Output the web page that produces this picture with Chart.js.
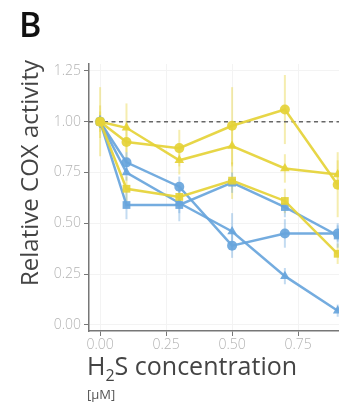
<!DOCTYPE html>
<html lang="en">
<head>
    <meta charset="utf-8">
    <title>COX activity</title>
    <script src="https://cdn.jsdelivr.net/npm/chart.js@4.4.0/dist/chart.umd.min.js"></script>
    <style>
        html, body { margin: 0; padding: 0; background: #fff; }
        #wrap { width: 339px; height: 405px; position: relative; }
    </style>
</head>
<body>
<div id="wrap"><canvas id="c"></canvas></div>
<script>
// H2S concentration (uM)
var conc = [0, 0.1, 0.3, 0.5, 0.7, 0.9];
var xTicks = [0, 0.25, 0.5, 0.75];
var yTicks = [0, 0.25, 0.5, 0.75, 1.0, 1.25];

// relative activity
var yellowCircle   = [1.00, 0.90, 0.87, 0.98, 1.06, 0.69];
var yellowTriangle = [1.00, 0.97, 0.81, 0.88, 0.77, 0.74];
var yellowSquare   = [1.00, 0.67, 0.63, 0.71, 0.61, 0.35];
var blueCircle     = [1.00, 0.80, 0.68, 0.39, 0.45, 0.45];
var blueTriangle   = [1.00, 0.75, 0.60, 0.46, 0.24, 0.07];
var blueSquare     = [1.00, 0.59, 0.59, 0.70, 0.58, 0.44];

// half-length of the error bars
var yellowCircleErr   = [0.17, 0.10, 0.09, 0.19, 0.17, 0.16];
var yellowTriangleErr = [0.08, 0.12, 0.07, 0.10, 0.07, 0.07];
var yellowSquareErr   = [0.05, 0.06, 0.05, 0.09, 0.06, 0.05];
var blueCircleErr     = [0.03, 0.05, 0.05, 0.06, 0.07, 0.04];
var blueTriangleErr   = [0.03, 0.04, 0.05, 0.09, 0.04, 0.03];
var blueSquareErr     = [0.03, 0.07, 0.08, 0.05, 0.05, 0.06];

var yellow = 'rgba(229,210,55,0.92)';
var blue = 'rgba(104,165,220,0.92)';
var yellowBar = 'rgba(229,210,55,0.4)';
var blueBar = 'rgba(104,165,220,0.4)';

function pts(vals) {
    return conc.map(function(x, i) { return { x: x, y: vals[i] }; });
}

function series(vals, errs, col, bar, shape) {
    return {
        data: pts(vals),
        errs: errs,
        barColor: bar,
        borderColor: col,
        backgroundColor: col,
        borderWidth: 2.5,
        pointStyle: shape,
        pointRadius: shape == 'circle' ? 5 : 5.5,
        pointBorderWidth: 0,
        tension: 0,
        clip: false
    };
}

var errorBars = {
    id: 'errorBars',
    beforeDatasetsDraw: function(chart) {
        var ctx = chart.ctx, xs = chart.scales.x, ys = chart.scales.y;
        ctx.save();
        ctx.lineWidth = 2;
        chart.data.datasets.forEach(function(ds) {
            ctx.strokeStyle = ds.barColor;
            ds.data.forEach(function(p, i) {
                var px = xs.getPixelForValue(p.x);
                ctx.beginPath();
                ctx.moveTo(px, ys.getPixelForValue(p.y - ds.errs[i]));
                ctx.lineTo(px, ys.getPixelForValue(p.y + ds.errs[i]));
                ctx.stroke();
            });
        });
        // reference line at 1.0
        var ry = ys.getPixelForValue(1.0);
        ctx.strokeStyle = '#666';
        ctx.lineWidth = 1.4;
        ctx.setLineDash([4, 3.5]);
        ctx.beginPath();
        ctx.moveTo(chart.chartArea.left, ry);
        ctx.lineTo(chart.width, ry);
        ctx.stroke();
        ctx.restore();
    }
};

var labels = {
    id: 'labels',
    afterDraw: function(chart) {
        var ctx = chart.ctx;
        ctx.save();
        ctx.fillStyle = '#111';
        ctx.font = '600 34px "Open Sans"';
        ctx.textBaseline = 'alphabetic';
        ctx.fillText('B', 19, 37);

        // y title
        ctx.fillStyle = '#444';
        ctx.font = '24px "Open Sans"';
        ctx.translate(38, 173);
        ctx.rotate(-Math.PI / 2);
        ctx.textAlign = 'center';
        ctx.fillText('Relative COX activity', 0, 0);
        ctx.restore();

        // x title with subscript
        ctx.save();
        ctx.fillStyle = '#444';
        ctx.textBaseline = 'alphabetic';
        var x = 87, y = 375;
        ctx.font = '25px "Open Sans"';
        ctx.fillText('H', x, y);
        x += ctx.measureText('H').width;
        ctx.font = '16px "Open Sans"';
        ctx.fillText('2', x, y + 6);
        x += ctx.measureText('2').width;
        ctx.font = '25px "Open Sans"';
        ctx.fillText('S concentration', x, y);
        ctx.font = '13px "Open Sans"';
        ctx.fillStyle = '#555';
        ctx.fillText('[\u00b5M]', 87, 399);
        ctx.restore();
    }
};

var tickFont = { family: 'Open Sans', size: 14, weight: 300 };

new Chart(document.getElementById('c'), {
    type: 'line',
    data: {
        datasets: [
            series(yellowCircle, yellowCircleErr, yellow, yellowBar, 'circle'),
            series(yellowTriangle, yellowTriangleErr, yellow, yellowBar, 'triangle'),
            series(yellowSquare, yellowSquareErr, yellow, yellowBar, 'rect'),
            series(blueCircle, blueCircleErr, blue, blueBar, 'circle'),
            series(blueTriangle, blueTriangleErr, blue, blueBar, 'triangle'),
            series(blueSquare, blueSquareErr, blue, blueBar, 'rect')
        ]
    },
    options: {
        responsive: true,
        maintainAspectRatio: false,
        animation: false,
        layout: { autoPadding: false, padding: { top: 64, left: 0, right: 0, bottom: 0 } },
        plugins: { legend: { display: false }, tooltip: { enabled: false } },
        scales: {
            x: {
                type: 'linear',
                min: -0.042,
                max: 0.905,
                afterBuildTicks: function(s) { s.ticks = xTicks.map(function(v) { return { value: v }; }); },
                afterFit: function(s) { s.height = 74; s.paddingRight = 0; },
                ticks: {
                    font: tickFont, color: '#b3b3b3', padding: 1,
                    callback: function(v) { return v.toFixed(2); }
                },
                grid: { color: '#f3f3f3', tickColor: '#777', tickLength: 5, lineWidth: 1 },
                border: { color: '#777', width: 1.5 }
            },
            y: {
                min: -0.03,
                max: 1.284,
                afterBuildTicks: function(s) { s.ticks = yTicks.map(function(v) { return { value: v }; }); },
                afterFit: function(s) { s.width = 89; },
                ticks: {
                    font: tickFont, color: '#b3b3b3', padding: 3,
                    callback: function(v) { return v.toFixed(2); }
                },
                grid: { color: '#f3f3f3', tickColor: '#777', tickLength: 5, lineWidth: 1 },
                border: { color: '#777', width: 1.5 }
            }
        }
    },
    plugins: [errorBars, labels]
});
</script>
</body>
</html>
